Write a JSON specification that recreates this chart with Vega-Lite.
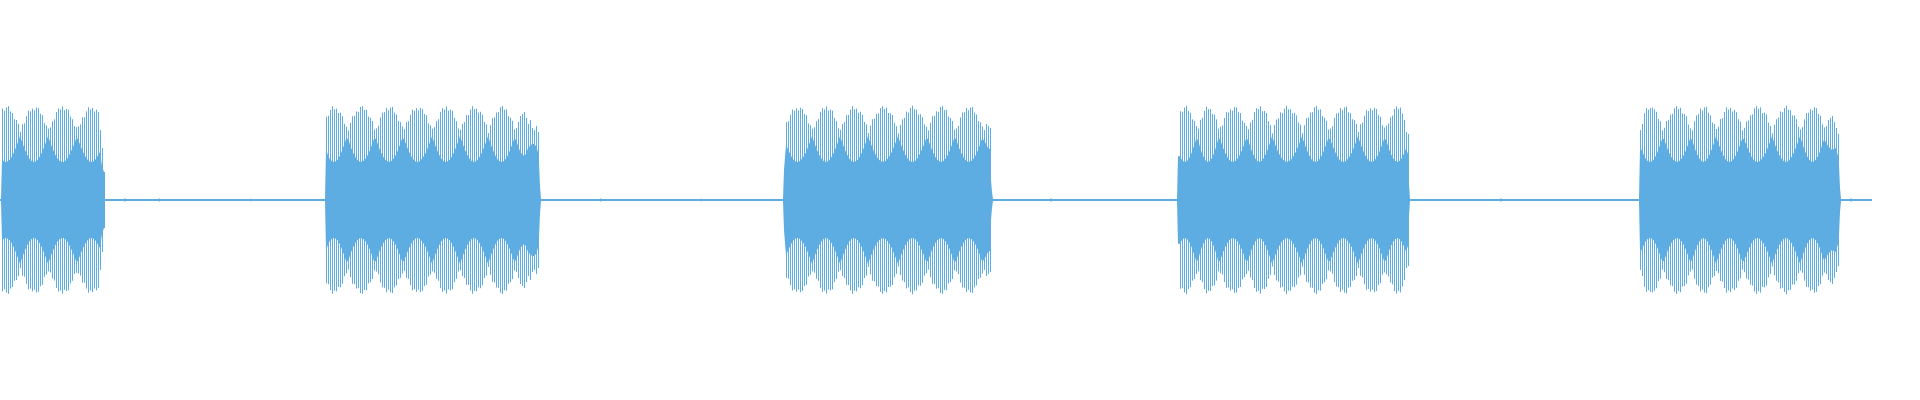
{
"$schema":"https://vega.github.io/schema/vega-lite/v6.json",
"width":1920,"height":400,"padding":0,
"autosize":{"type":"fit","contains":"padding"},
"background":"white",
"config":{"view":{"stroke":null}},
"data":{"values":[
{"t":0,"c":0.005},{"t":1,"c":0.005},
{"t":2,"h":0.457,"c":0.203},{"t":4,"h":0.447,"c":0.194},{"t":6,"h":0.463,"c":0.19},{"t":8,"h":0.469,"c":0.194},{"t":10,"h":0.443,"c":0.203},{"t":12,"h":0.435,"c":0.219},{"t":14,"h":0.404,"c":0.239},{"t":16,"h":0.4,"c":0.264},{"t":18,"h":0.38,"c":0.291},{"t":20,"h":0.341,"c":0.32},
{"t":22,"h":0.378,"c":0.291},{"t":24,"h":0.384,"c":0.264},{"t":26,"h":0.419,"c":0.239},{"t":28,"h":0.447,"c":0.219},{"t":30,"h":0.443,"c":0.203},{"t":32,"h":0.457,"c":0.194},{"t":34,"h":0.448,"c":0.19},{"t":36,"h":0.463,"c":0.194},{"t":38,"h":0.459,"c":0.203},{"t":40,"h":0.431,"c":0.219},{"t":42,"h":0.424,"c":0.239},{"t":44,"h":0.384,"c":0.264},{"t":46,"h":0.373,"c":0.291},{"t":48,"h":0.357,"c":0.32},
{"t":50,"h":0.363,"c":0.293},{"t":52,"h":0.393,"c":0.265},{"t":54,"h":0.403,"c":0.241},{"t":56,"h":0.44,"c":0.22},{"t":58,"h":0.457,"c":0.204},{"t":60,"h":0.453,"c":0.194},{"t":62,"h":0.468,"c":0.19},{"t":64,"h":0.449,"c":0.191},{"t":66,"h":0.455,"c":0.199},{"t":68,"h":0.451,"c":0.213},{"t":70,"h":0.417,"c":0.232},{"t":72,"h":0.404,"c":0.254},{"t":74,"h":0.37,"c":0.278},{"t":76,"h":0.364,"c":0.306},
{"t":78,"h":0.368,"c":0.306},{"t":80,"h":0.378,"c":0.278},{"t":82,"h":0.413,"c":0.252},{"t":84,"h":0.414,"c":0.23},{"t":86,"h":0.443,"c":0.212},{"t":88,"h":0.464,"c":0.199},{"t":90,"h":0.453,"c":0.191},{"t":92,"h":0.46,"c":0.19},{"t":94,"h":0.443,"c":0.195},{"t":96,"h":0.452,"c":0.206},{"t":98,"h":0.44,"c":0.224},{"t":100,"h":0.35,"c":0.24},{"t":102,"h":0.26,"c":0.17},{"t":104,"h":0.14,"c":0.14},
{"t":105,"c":0.005},{"t":124,"c":0.005},{"t":125,"c":0.009},{"t":126,"c":0.005},{"t":158,"c":0.005},{"t":159,"c":0.009},{"t":160,"c":0.005},{"t":250,"c":0.005},{"t":251,"c":0.008},{"t":252,"c":0.005},{"t":325,"c":0.005},
{"t":326,"h":0.417,"c":0.26},{"t":328,"h":0.421,"c":0.223},{"t":330,"h":0.45,"c":0.204},{"t":332,"h":0.469,"c":0.194},{"t":334,"h":0.454,"c":0.19},{"t":336,"h":0.457,"c":0.194},{"t":338,"h":0.435,"c":0.204},{"t":340,"h":0.437,"c":0.223},{"t":342,"h":0.419,"c":0.247},{"t":344,"h":0.381,"c":0.275},{"t":346,"h":0.367,"c":0.304},
{"t":348,"h":0.348,"c":0.306},{"t":350,"h":0.386,"c":0.277},{"t":352,"h":0.419,"c":0.25},{"t":354,"h":0.421,"c":0.228},{"t":356,"h":0.443,"c":0.21},{"t":358,"h":0.441,"c":0.198},{"t":360,"h":0.465,"c":0.191},{"t":362,"h":0.469,"c":0.191},{"t":364,"h":0.449,"c":0.198},{"t":366,"h":0.451,"c":0.21},{"t":368,"h":0.417,"c":0.228},{"t":370,"h":0.41,"c":0.25},{"t":372,"h":0.395,"c":0.277},{"t":374,"h":0.352,"c":0.306},
{"t":376,"h":0.358,"c":0.306},{"t":378,"h":0.371,"c":0.277},{"t":380,"h":0.413,"c":0.25},{"t":382,"h":0.437,"c":0.228},{"t":384,"h":0.439,"c":0.21},{"t":386,"h":0.461,"c":0.198},{"t":388,"h":0.449,"c":0.191},{"t":390,"h":0.462,"c":0.191},{"t":392,"h":0.465,"c":0.198},{"t":394,"h":0.437,"c":0.21},{"t":396,"h":0.427,"c":0.228},{"t":398,"h":0.395,"c":0.25},{"t":400,"h":0.389,"c":0.277},{"t":402,"h":0.368,"c":0.306},
{"t":404,"h":0.354,"c":0.306},{"t":406,"h":0.389,"c":0.28},{"t":408,"h":0.394,"c":0.254},{"t":410,"h":0.426,"c":0.232},{"t":412,"h":0.452,"c":0.212},{"t":414,"h":0.446,"c":0.199},{"t":416,"h":0.459,"c":0.191},{"t":418,"h":0.448,"c":0.19},{"t":420,"h":0.461,"c":0.195},{"t":422,"h":0.455,"c":0.207},{"t":424,"h":0.43,"c":0.22},{"t":426,"h":0.424,"c":0.239},{"t":428,"h":0.383,"c":0.265},{"t":430,"h":0.373,"c":0.291},{"t":432,"h":0.357,"c":0.32},
{"t":434,"h":0.364,"c":0.291},{"t":436,"h":0.394,"c":0.264},{"t":438,"h":0.404,"c":0.239},{"t":440,"h":0.441,"c":0.219},{"t":442,"h":0.459,"c":0.203},{"t":444,"h":0.453,"c":0.194},{"t":446,"h":0.468,"c":0.19},{"t":448,"h":0.447,"c":0.194},{"t":450,"h":0.452,"c":0.203},{"t":452,"h":0.447,"c":0.219},{"t":454,"h":0.41,"c":0.239},{"t":456,"h":0.394,"c":0.264},{"t":458,"h":0.358,"c":0.291},{"t":460,"h":0.351,"c":0.32},
{"t":462,"h":0.38,"c":0.291},{"t":464,"h":0.39,"c":0.264},{"t":466,"h":0.424,"c":0.239},{"t":468,"h":0.425,"c":0.219},{"t":470,"h":0.452,"c":0.203},{"t":472,"h":0.469,"c":0.194},{"t":474,"h":0.454,"c":0.19},{"t":476,"h":0.457,"c":0.194},{"t":478,"h":0.437,"c":0.203},{"t":480,"h":0.441,"c":0.219},{"t":482,"h":0.426,"c":0.239},{"t":484,"h":0.39,"c":0.264},{"t":486,"h":0.378,"c":0.291},{"t":488,"h":0.335,"c":0.32},
{"t":490,"h":0.374,"c":0.29},{"t":492,"h":0.409,"c":0.262},{"t":494,"h":0.413,"c":0.237},{"t":496,"h":0.437,"c":0.216},{"t":498,"h":0.439,"c":0.2},{"t":500,"h":0.464,"c":0.193},{"t":502,"h":0.47,"c":0.19},{"t":504,"h":0.451,"c":0.195},{"t":506,"h":0.453,"c":0.207},{"t":508,"h":0.419,"c":0.225},{"t":510,"h":0.411,"c":0.249},{"t":512,"h":0.396,"c":0.276},{"t":514,"h":0.353,"c":0.304},
{"t":516,"h":0.36,"c":0.303},{"t":518,"h":0.39,"c":0.272},{"t":520,"h":0.42,"c":0.245},{"t":522,"h":0.43,"c":0.23},{"t":524,"h":0.44,"c":0.22},{"t":526,"h":0.41,"c":0.23},{"t":528,"h":0.38,"c":0.26},{"t":530,"h":0.4,"c":0.27},{"t":532,"h":0.36,"c":0.28},{"t":534,"h":0.35,"c":0.28},{"t":536,"h":0.37,"c":0.27},{"t":538,"h":0.34,"c":0.24},{"t":539,"c":0.185},{"t":540,"c":0.07},
{"t":541,"c":0.005},{"t":600,"c":0.005},{"t":601,"c":0.009},{"t":602,"c":0.005},{"t":700,"c":0.005},{"t":701,"c":0.008},{"t":702,"c":0.005},{"t":783,"c":0.005},
{"t":784,"h":0.15,"c":0.15},{"t":786,"h":0.389,"c":0.28},{"t":788,"h":0.394,"c":0.254},{"t":790,"h":0.426,"c":0.232},{"t":792,"h":0.452,"c":0.212},{"t":794,"h":0.446,"c":0.199},{"t":796,"h":0.459,"c":0.191},{"t":798,"h":0.448,"c":0.19},{"t":800,"h":0.461,"c":0.195},{"t":802,"h":0.455,"c":0.207},{"t":804,"h":0.43,"c":0.22},{"t":806,"h":0.424,"c":0.239},{"t":808,"h":0.383,"c":0.265},{"t":810,"h":0.373,"c":0.291},{"t":812,"h":0.357,"c":0.32},
{"t":814,"h":0.364,"c":0.291},{"t":816,"h":0.394,"c":0.264},{"t":818,"h":0.404,"c":0.239},{"t":820,"h":0.441,"c":0.219},{"t":822,"h":0.459,"c":0.203},{"t":824,"h":0.453,"c":0.194},{"t":826,"h":0.468,"c":0.19},{"t":828,"h":0.447,"c":0.194},{"t":830,"h":0.452,"c":0.203},{"t":832,"h":0.447,"c":0.219},{"t":834,"h":0.41,"c":0.239},{"t":836,"h":0.394,"c":0.264},{"t":838,"h":0.358,"c":0.291},{"t":840,"h":0.351,"c":0.32},
{"t":842,"h":0.38,"c":0.291},{"t":844,"h":0.39,"c":0.264},{"t":846,"h":0.424,"c":0.239},{"t":848,"h":0.425,"c":0.219},{"t":850,"h":0.452,"c":0.203},{"t":852,"h":0.469,"c":0.194},{"t":854,"h":0.454,"c":0.19},{"t":856,"h":0.457,"c":0.194},{"t":858,"h":0.437,"c":0.203},{"t":860,"h":0.441,"c":0.219},{"t":862,"h":0.426,"c":0.239},{"t":864,"h":0.39,"c":0.264},{"t":866,"h":0.378,"c":0.291},{"t":868,"h":0.335,"c":0.32},
{"t":870,"h":0.372,"c":0.293},{"t":872,"h":0.404,"c":0.267},{"t":874,"h":0.407,"c":0.243},{"t":876,"h":0.43,"c":0.224},{"t":878,"h":0.433,"c":0.207},{"t":880,"h":0.46,"c":0.197},{"t":882,"h":0.469,"c":0.191},{"t":884,"h":0.455,"c":0.191},{"t":886,"h":0.462,"c":0.197},{"t":888,"h":0.435,"c":0.207},{"t":890,"h":0.433,"c":0.224},{"t":892,"h":0.425,"c":0.243},{"t":894,"h":0.386,"c":0.267},{"t":896,"h":0.369,"c":0.293},{"t":898,"h":0.333,"c":0.32},
{"t":900,"h":0.376,"c":0.291},{"t":902,"h":0.403,"c":0.265},{"t":904,"h":0.411,"c":0.241},{"t":906,"h":0.442,"c":0.22},{"t":908,"h":0.437,"c":0.204},{"t":910,"h":0.46,"c":0.194},{"t":912,"h":0.472,"c":0.19},{"t":914,"h":0.453,"c":0.191},{"t":916,"h":0.452,"c":0.199},{"t":918,"h":0.427,"c":0.213},{"t":920,"h":0.429,"c":0.232},{"t":922,"h":0.414,"c":0.254},{"t":924,"h":0.378,"c":0.278},{"t":926,"h":0.366,"c":0.306},
{"t":928,"h":0.348,"c":0.306},{"t":930,"h":0.386,"c":0.277},{"t":932,"h":0.419,"c":0.25},{"t":934,"h":0.421,"c":0.228},{"t":936,"h":0.443,"c":0.21},{"t":938,"h":0.441,"c":0.198},{"t":940,"h":0.465,"c":0.191},{"t":942,"h":0.469,"c":0.191},{"t":944,"h":0.449,"c":0.198},{"t":946,"h":0.451,"c":0.21},{"t":948,"h":0.417,"c":0.228},{"t":950,"h":0.41,"c":0.25},{"t":952,"h":0.395,"c":0.277},{"t":954,"h":0.352,"c":0.306},
{"t":956,"h":0.358,"c":0.306},{"t":958,"h":0.371,"c":0.277},{"t":960,"h":0.413,"c":0.25},{"t":962,"h":0.437,"c":0.228},{"t":964,"h":0.439,"c":0.21},{"t":966,"h":0.461,"c":0.198},{"t":968,"h":0.449,"c":0.191},{"t":970,"h":0.462,"c":0.191},{"t":972,"h":0.465,"c":0.198},{"t":974,"h":0.437,"c":0.21},{"t":976,"h":0.427,"c":0.228},{"t":978,"h":0.395,"c":0.25},{"t":980,"h":0.389,"c":0.277},{"t":982,"h":0.368,"c":0.306},
{"t":984,"h":0.35,"c":0.3},{"t":986,"h":0.38,"c":0.28},{"t":988,"h":0.37,"c":0.26},{"t":990,"h":0.36,"c":0.255},{"t":991,"c":0.1},{"t":992,"c":0.04},
{"t":993,"c":0.005},{"t":1050,"c":0.005},{"t":1051,"c":0.009},{"t":1052,"c":0.005},{"t":1177,"c":0.005},
{"t":1178,"c":0.22},{"t":1180,"h":0.444,"c":0.217},{"t":1182,"h":0.441,"c":0.2},{"t":1184,"h":0.462,"c":0.191},{"t":1186,"h":0.471,"c":0.191},{"t":1188,"h":0.445,"c":0.2},{"t":1190,"h":0.436,"c":0.217},{"t":1192,"h":0.403,"c":0.241},{"t":1194,"h":0.395,"c":0.271},{"t":1196,"h":0.37,"c":0.303},
{"t":1198,"h":0.357,"c":0.302},{"t":1200,"h":0.401,"c":0.265},{"t":1202,"h":0.411,"c":0.234},{"t":1204,"h":0.445,"c":0.211},{"t":1206,"h":0.467,"c":0.195},{"t":1208,"h":0.454,"c":0.19},{"t":1210,"h":0.455,"c":0.195},{"t":1212,"h":0.43,"c":0.211},{"t":1214,"h":0.427,"c":0.234},{"t":1216,"h":0.403,"c":0.265},{"t":1218,"h":0.357,"c":0.302},
{"t":1220,"h":0.366,"c":0.306},{"t":1222,"h":0.373,"c":0.277},{"t":1224,"h":0.41,"c":0.25},{"t":1226,"h":0.439,"c":0.228},{"t":1228,"h":0.437,"c":0.21},{"t":1230,"h":0.453,"c":0.198},{"t":1232,"h":0.447,"c":0.191},{"t":1234,"h":0.465,"c":0.191},{"t":1236,"h":0.463,"c":0.198},{"t":1238,"h":0.439,"c":0.21},{"t":1240,"h":0.435,"c":0.228},{"t":1242,"h":0.397,"c":0.25},{"t":1244,"h":0.386,"c":0.277},{"t":1246,"h":0.37,"c":0.306},
{"t":1248,"h":0.354,"c":0.303},{"t":1250,"h":0.388,"c":0.272},{"t":1252,"h":0.401,"c":0.243},{"t":1254,"h":0.44,"c":0.22},{"t":1256,"h":0.459,"c":0.203},{"t":1258,"h":0.454,"c":0.193},{"t":1260,"h":0.468,"c":0.19},{"t":1262,"h":0.444,"c":0.197},{"t":1264,"h":0.445,"c":0.211},{"t":1266,"h":0.435,"c":0.232},{"t":1268,"h":0.394,"c":0.258},{"t":1270,"h":0.374,"c":0.288},{"t":1272,"h":0.333,"c":0.32},
{"t":1274,"h":0.375,"c":0.293},{"t":1276,"h":0.402,"c":0.267},{"t":1278,"h":0.409,"c":0.243},{"t":1280,"h":0.438,"c":0.224},{"t":1282,"h":0.435,"c":0.207},{"t":1284,"h":0.457,"c":0.197},{"t":1286,"h":0.471,"c":0.191},{"t":1288,"h":0.453,"c":0.191},{"t":1290,"h":0.454,"c":0.197},{"t":1292,"h":0.433,"c":0.207},{"t":1294,"h":0.436,"c":0.224},{"t":1296,"h":0.423,"c":0.243},{"t":1298,"h":0.388,"c":0.267},{"t":1300,"h":0.377,"c":0.293},{"t":1302,"h":0.335,"c":0.32},
{"t":1304,"h":0.374,"c":0.29},{"t":1306,"h":0.409,"c":0.262},{"t":1308,"h":0.413,"c":0.237},{"t":1310,"h":0.437,"c":0.216},{"t":1312,"h":0.439,"c":0.2},{"t":1314,"h":0.464,"c":0.193},{"t":1316,"h":0.47,"c":0.19},{"t":1318,"h":0.451,"c":0.195},{"t":1320,"h":0.453,"c":0.207},{"t":1322,"h":0.419,"c":0.225},{"t":1324,"h":0.411,"c":0.249},{"t":1326,"h":0.396,"c":0.276},{"t":1328,"h":0.353,"c":0.304},
{"t":1330,"h":0.358,"c":0.306},{"t":1332,"h":0.369,"c":0.28},{"t":1334,"h":0.41,"c":0.254},{"t":1336,"h":0.433,"c":0.232},{"t":1338,"h":0.436,"c":0.212},{"t":1340,"h":0.46,"c":0.199},{"t":1342,"h":0.449,"c":0.191},{"t":1344,"h":0.463,"c":0.19},{"t":1346,"h":0.467,"c":0.195},{"t":1348,"h":0.439,"c":0.207},{"t":1350,"h":0.434,"c":0.22},{"t":1352,"h":0.404,"c":0.239},{"t":1354,"h":0.399,"c":0.265},{"t":1356,"h":0.38,"c":0.291},{"t":1358,"h":0.341,"c":0.32},
{"t":1360,"h":0.379,"c":0.29},{"t":1362,"h":0.387,"c":0.262},{"t":1364,"h":0.422,"c":0.237},{"t":1366,"h":0.449,"c":0.216},{"t":1368,"h":0.445,"c":0.2},{"t":1370,"h":0.458,"c":0.193},{"t":1372,"h":0.448,"c":0.19},{"t":1374,"h":0.461,"c":0.195},{"t":1376,"h":0.455,"c":0.207},{"t":1378,"h":0.425,"c":0.225},{"t":1380,"h":0.416,"c":0.249},{"t":1382,"h":0.374,"c":0.276},{"t":1384,"h":0.362,"c":0.304},
{"t":1386,"h":0.372,"c":0.303},{"t":1388,"h":0.382,"c":0.272},{"t":1390,"h":0.413,"c":0.243},{"t":1392,"h":0.422,"c":0.22},{"t":1394,"h":0.455,"c":0.203},{"t":1396,"h":0.468,"c":0.193},{"t":1398,"h":0.456,"c":0.19},{"t":1400,"h":0.462,"c":0.197},{"t":1402,"h":0.432,"c":0.211},{"t":1404,"h":0.4,"c":0.232},{"t":1406,"h":0.34,"c":0.258},{"t":1408,"h":0.33,"c":0.23},{"t":1409,"c":0.08},
{"t":1410,"c":0.005},{"t":1500,"c":0.005},{"t":1501,"c":0.009},{"t":1502,"c":0.005},{"t":1639,"c":0.005},
{"t":1640,"h":0.35,"c":0.26},{"t":1642,"h":0.38,"c":0.247},{"t":1644,"h":0.434,"c":0.223},{"t":1646,"h":0.459,"c":0.204},{"t":1648,"h":0.451,"c":0.194},{"t":1650,"h":0.46,"c":0.19},{"t":1652,"h":0.462,"c":0.194},{"t":1654,"h":0.453,"c":0.204},{"t":1656,"h":0.441,"c":0.223},{"t":1658,"h":0.405,"c":0.247},{"t":1660,"h":0.393,"c":0.275},{"t":1662,"h":0.349,"c":0.304},
{"t":1664,"h":0.361,"c":0.306},{"t":1666,"h":0.395,"c":0.277},{"t":1668,"h":0.401,"c":0.25},{"t":1670,"h":0.427,"c":0.228},{"t":1672,"h":0.431,"c":0.21},{"t":1674,"h":0.459,"c":0.198},{"t":1676,"h":0.469,"c":0.191},{"t":1678,"h":0.455,"c":0.191},{"t":1680,"h":0.461,"c":0.198},{"t":1682,"h":0.433,"c":0.21},{"t":1684,"h":0.43,"c":0.228},{"t":1686,"h":0.419,"c":0.25},{"t":1688,"h":0.377,"c":0.277},{"t":1690,"h":0.358,"c":0.306},
{"t":1692,"h":0.348,"c":0.303},{"t":1694,"h":0.394,"c":0.272},{"t":1696,"h":0.423,"c":0.243},{"t":1698,"h":0.43,"c":0.22},{"t":1700,"h":0.457,"c":0.203},{"t":1702,"h":0.448,"c":0.193},{"t":1704,"h":0.463,"c":0.19},{"t":1706,"h":0.466,"c":0.197},{"t":1708,"h":0.436,"c":0.211},{"t":1710,"h":0.423,"c":0.232},{"t":1712,"h":0.388,"c":0.258},{"t":1714,"h":0.38,"c":0.288},{"t":1716,"h":0.355,"c":0.32},
{"t":1718,"h":0.367,"c":0.29},{"t":1720,"h":0.405,"c":0.262},{"t":1722,"h":0.409,"c":0.237},{"t":1724,"h":0.44,"c":0.216},{"t":1726,"h":0.463,"c":0.2},{"t":1728,"h":0.452,"c":0.193},{"t":1730,"h":0.46,"c":0.19},{"t":1732,"h":0.443,"c":0.195},{"t":1734,"h":0.451,"c":0.207},{"t":1736,"h":0.439,"c":0.225},{"t":1738,"h":0.404,"c":0.249},{"t":1740,"h":0.392,"c":0.276},{"t":1742,"h":0.349,"c":0.304},
{"t":1744,"h":0.361,"c":0.306},{"t":1746,"h":0.393,"c":0.28},{"t":1748,"h":0.398,"c":0.254},{"t":1750,"h":0.423,"c":0.232},{"t":1752,"h":0.428,"c":0.212},{"t":1754,"h":0.458,"c":0.199},{"t":1756,"h":0.469,"c":0.191},{"t":1758,"h":0.456,"c":0.19},{"t":1760,"h":0.463,"c":0.195},{"t":1762,"h":0.435,"c":0.207},{"t":1764,"h":0.437,"c":0.22},{"t":1766,"h":0.428,"c":0.239},{"t":1768,"h":0.387,"c":0.265},{"t":1770,"h":0.37,"c":0.291},{"t":1772,"h":0.333,"c":0.32},
{"t":1774,"h":0.376,"c":0.291},{"t":1776,"h":0.404,"c":0.264},{"t":1778,"h":0.412,"c":0.239},{"t":1780,"h":0.443,"c":0.219},{"t":1782,"h":0.439,"c":0.203},{"t":1784,"h":0.46,"c":0.194},{"t":1786,"h":0.472,"c":0.19},{"t":1788,"h":0.451,"c":0.194},{"t":1790,"h":0.449,"c":0.203},{"t":1792,"h":0.423,"c":0.219},{"t":1794,"h":0.422,"c":0.239},{"t":1796,"h":0.404,"c":0.264},{"t":1798,"h":0.366,"c":0.291},{"t":1800,"h":0.353,"c":0.32},
{"t":1802,"h":0.364,"c":0.288},{"t":1804,"h":0.403,"c":0.258},{"t":1806,"h":0.435,"c":0.232},{"t":1808,"h":0.436,"c":0.211},{"t":1810,"h":0.454,"c":0.197},{"t":1812,"h":0.448,"c":0.19},{"t":1814,"h":0.464,"c":0.193},{"t":1816,"h":0.459,"c":0.203},{"t":1818,"h":0.43,"c":0.22},{"t":1820,"h":0.421,"c":0.243},{"t":1822,"h":0.378,"c":0.272},{"t":1824,"h":0.363,"c":0.303},
{"t":1826,"h":0.37,"c":0.29},{"t":1828,"h":0.4,"c":0.27},{"t":1830,"h":0.41,"c":0.26},{"t":1832,"h":0.42,"c":0.25},{"t":1834,"h":0.39,"c":0.255},{"t":1836,"h":0.36,"c":0.26},{"t":1838,"h":0.33,"c":0.22},{"t":1839,"c":0.175},{"t":1840,"c":0.06},
{"t":1841,"c":0.005},{"t":1850,"c":0.005},{"t":1851,"c":0.009},{"t":1852,"c":0.005},{"t":1872,"c":0.005}
]},
"encoding":{"x":{"field":"t","type":"quantitative","scale":{"domain":[0,1920],"nice":false,"zero":false},"axis":null}},
"layer":[
{"mark":{"type":"area","color":"#5dade2","interpolate":"linear"},
 "encoding":{"y":{"field":"c","type":"quantitative","scale":{"domain":[-1,1],"nice":false},"axis":null},"y2":{"datum":0}}},
{"mark":{"type":"area","color":"#5dade2","interpolate":"linear"},
 "encoding":{"y":{"field":"c","type":"quantitative","scale":{"domain":[-1,1],"nice":false,"reverse":true},"axis":null},"y2":{"datum":0}}},
{"transform":[{"filter":"isValid(datum.h)"}],
 "mark":{"type":"rule","color":"#5dade2","strokeWidth":1,"xOffset":0.5},
 "encoding":{"y":{"field":"h","type":"quantitative","scale":{"domain":[-1,1],"nice":false},"axis":null},"y2":{"datum":0}}},
{"transform":[{"filter":"isValid(datum.h)"}],
 "mark":{"type":"rule","color":"#5dade2","strokeWidth":1,"xOffset":0.5},
 "encoding":{"y":{"field":"h","type":"quantitative","scale":{"domain":[-1,1],"nice":false,"reverse":true},"axis":null},"y2":{"datum":0}}}
],
"resolve":{"scale":{"y":"independent"}}
}
